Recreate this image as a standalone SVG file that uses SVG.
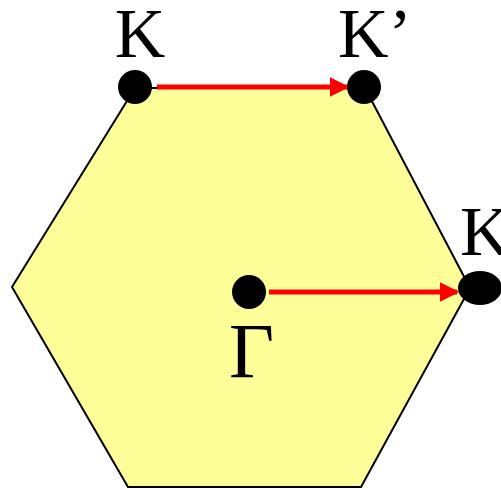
<svg xmlns="http://www.w3.org/2000/svg" width="501" height="490" viewBox="0 0 501 490">
<style>
.lbl{font-family:"Liberation Serif","Times New Roman",serif;fill:#000}
.arr{stroke:#FF0000;stroke-width:5;fill:none}
.dot{fill:#000}
</style>
<defs>
<marker id="ah" markerWidth="4" markerHeight="4" refX="3.5" refY="2" orient="auto" markerUnits="strokeWidth">
<path d="M0,0 L4,2 L0,4 z" fill="#FF0000"/>
</marker>
</defs>
<g id="hexagon">
<polygon points="135,88 365,88 470,288 361,487 128,487 12,287" fill="#FFFF99" stroke="#000" stroke-width="2"/>
</g>
<g id="connectors">
<line class="arr" x1="157" y1="87" x2="347" y2="87" marker-end="url(#ah)"/>
<line class="arr" x1="269" y1="292" x2="457" y2="292" marker-end="url(#ah)"/>
</g>
<g id="K1">
<circle class="dot" cx="135" cy="87" r="17"/>
<text class="lbl" x="140" y="57" font-size="70" text-anchor="middle">K</text>
</g>
<g id="K2">
<circle class="dot" cx="364" cy="87" r="17"/>
<text class="lbl" x="338" y="57" font-size="70">K’</text>
</g>
<g id="K3">
<ellipse class="dot" cx="480" cy="288" rx="22" ry="17"/>
<text class="lbl" x="460" y="255" font-size="70">K</text>
</g>
<g id="Gamma">
<circle class="dot" cx="249" cy="292" r="17"/>
<text class="lbl" x="229" y="377" font-size="78">Γ</text>
</g>
</svg>
